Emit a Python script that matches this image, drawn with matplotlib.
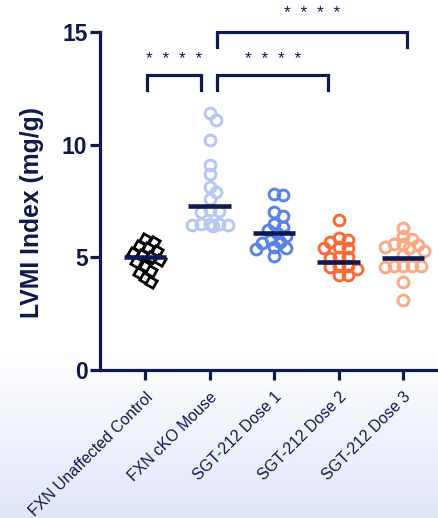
import numpy as np
import matplotlib
matplotlib.use("Agg")
import matplotlib.pyplot as plt
from matplotlib.colors import LinearSegmentedColormap

# ---- data -------------------------------------------------------------
groups = ["FXN Unaffected Control", "FXN cKO Mouse", "SGT-212 Dose 1",
          "SGT-212 Dose 2", "SGT-212 Dose 3"]

control = [5.8, 5.7, 5.5, 5.4, 5.3, 5.2, 5.1, 5.0, 4.9, 4.8, 4.6, 4.4, 4.3, 4.1, 3.9]
cko = [11.4, 11.1, 10.2, 9.1, 8.7, 8.1, 7.9, 7.6, 7.1, 7.0, 7.05, 6.5, 6.5,
       6.45, 6.4, 6.45, 6.5]
dose1 = [7.8, 7.75, 7.0, 6.85, 6.5, 6.35, 6.2, 6.1, 5.95, 5.7, 5.65, 5.8,
         5.45, 5.4, 5.35, 5.05]
dose2 = [6.65, 5.75, 5.7, 5.85, 5.45, 5.4, 5.4, 5.0, 5.0, 4.95, 4.55, 4.6,
         4.5, 4.2, 4.2, 4.6]
dose3 = [6.3, 5.95, 5.8, 5.6, 5.6, 5.55, 5.45, 5.4, 5.3, 5.1, 4.6, 4.6,
         4.55, 4.6, 4.6, 3.9, 3.1]
group_means = [5.0, 7.3, 6.08, 4.8, 4.97]

comparisons = [(0, 1, "*  *  *  *"), (1, 3, "*  *  *  *"), (1, 4, "*  *  *  *")]
y_ticks = [0, 5, 10, 15]

# ---- style ------------------------------------------------------------
navy = "#0e1a4f"
colors = ["#000000", "#b5c8f5", "#5a82ef", "#fb6a35", "#fca882"]
markers = [(4, 0, 15), "o", "o", "o", "o"]

plt.rcParams["font.family"] = ["Liberation Sans", "DejaVu Sans"]

W, H = 439, 518
fig = plt.figure(figsize=(W / 100, H / 100), dpi=100)

# soft lavender gradient toward the bottom of the figure
bg = fig.add_axes([0, 0, 1, 1], zorder=-10)
rows = np.linspace(0, 1, 518)
ramp = np.clip((rows * H - 355) / (H - 355), 0, 1)[:, None]
cmap = LinearSegmentedColormap.from_list("bg", ["#ffffff", "#e0e5f8"])
bg.imshow(ramp, cmap=cmap, aspect="auto", extent=[0, 1, 1, 0], vmin=0, vmax=1)
bg.axis("off")

ax_left, ax_bottom = 100 / W, 148 / H
ax_w, ax_h = 339 / W, 338 / H
ax = fig.add_axes([ax_left, ax_bottom, ax_w, ax_h])
ax.patch.set_alpha(0)

cat_px = 64.5
x0 = -45 / cat_px
ax.set_xlim(x0, x0 + 339 / cat_px)
ax.set_ylim(0, 15)

px_per_x = cat_px
px_per_y = 338 / 15


def swarm(values, center, min_dist=7.5, step=3.0, max_off=21.0):
    """Spread points sideways within a band so markers overlap only partly."""
    order = np.argsort(values)[::-1]
    placed = []
    xs = np.zeros(len(values))
    candidates = [0.0]
    n = 1
    while n * step <= max_off:
        candidates += [n * step, -n * step]
        n += 1
    for i in order:
        yv = values[i] * px_per_y
        best, best_d = 0.0, -1.0
        chosen = None
        for off in candidates:
            d = min([np.hypot(off - px, yv - py) for px, py in placed] or [1e9])
            if d >= min_dist:
                chosen = off
                break
            if d > best_d:
                best, best_d = off, d
        if chosen is None:
            chosen = best
        placed.append((chosen, yv))
        xs[i] = center + chosen / px_per_x
    return xs


series = [control, cko, dose1, dose2, dose3]
for gi, vals in enumerate(series):
    vals = np.asarray(vals)
    xs = swarm(vals, gi)
    if gi == 0:
        ax.plot(xs, vals, linestyle="none", marker=markers[gi], markersize=8.5,
                markerfacecolor="white", markeredgecolor=colors[gi],
                markeredgewidth=2.0, zorder=3)
    else:
        ax.plot(xs, vals, linestyle="none", marker=markers[gi], markersize=7.8,
                markerfacecolor="none", markeredgecolor=colors[gi],
                markeredgewidth=2.1, zorder=3)
    ax.plot([gi - 0.33, gi + 0.33], [group_means[gi]] * 2, color=navy,
            lw=3.3, solid_capstyle="butt", zorder=4)

# significance brackets
bracket_levels = {(0, 1): (13.1, 0.03, 0.87, 14.0),
                  (1, 3): (13.1, 1.12, 2.84, 14.0),
                  (1, 4): (15.0, 1.12, 4.06, 16.0)}
for a, b, txt in comparisons:
    top, xa, xb, ty = bracket_levels[(a, b)]
    drop = 0.67
    ax.plot([xa, xa, xb, xb], [top - drop, top, top, top - drop], color=navy,
            lw=2.3, clip_on=False, solid_joinstyle="miter", zorder=5)
    ax.text((xa + xb) / 2, ty - 0.2, txt, ha="center", va="center",
            color=navy, fontsize=12.5, clip_on=False)

# axes styling
for side in ["top", "right"]:
    ax.spines[side].set_visible(False)
for side in ["left", "bottom"]:
    ax.spines[side].set_color(navy)
    ax.spines[side].set_linewidth(2.3)

ax.set_yticks(y_ticks)
ax.set_yticklabels([str(t) for t in y_ticks], fontsize=16.5, fontweight="bold",
                   color=navy)
ax.tick_params(axis="y", length=7, width=2.3, color=navy, pad=2)

ax.set_xticks(range(len(groups)))
ax.set_xticklabels(groups, rotation=45, ha="right", rotation_mode="anchor",
                   fontsize=11.4, color=navy)
ax.tick_params(axis="x", length=7, width=2.3, color=navy, pad=7)

ax.set_ylabel("LVMI Index (mg/g)", fontsize=17.8, fontweight="bold", color=navy)
ax.yaxis.set_label_coords(-0.165, 0.467)

fig.savefig("out.png", dpi=100)
